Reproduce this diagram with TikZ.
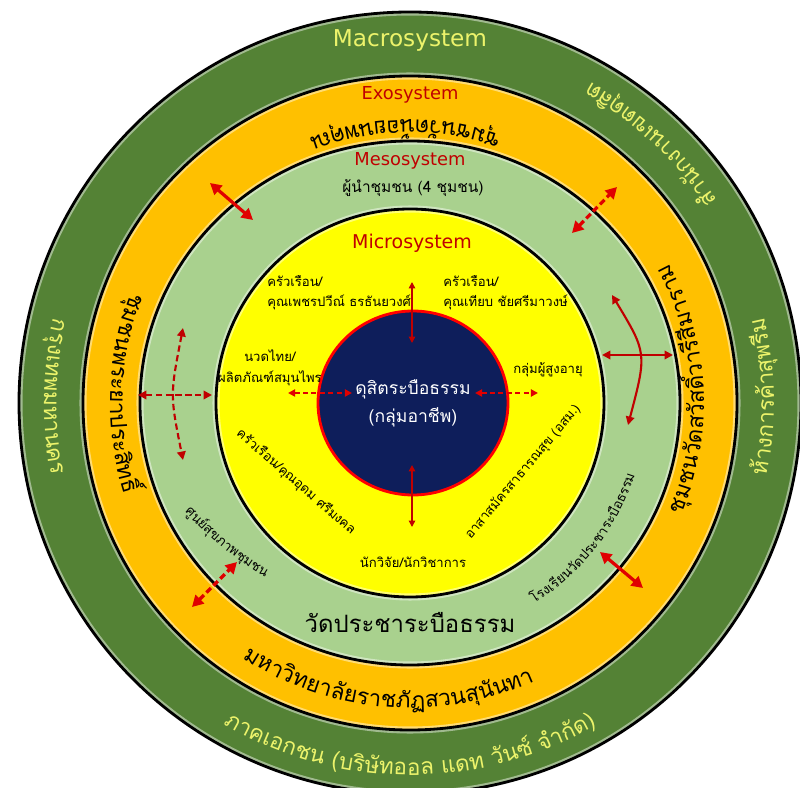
\documentclass[tikz,border=0pt]{standalone}
\usepackage{fontspec}
\setmainfont{DejaVu Sans}
\newfontfamily\thaifont[Script=Thai]{Loma}
\usepackage{tikz}
\usetikzlibrary{arrows.meta,decorations.text}
\definecolor{MacroGreen}{HTML}{548235}
\definecolor{ExoOrange}{HTML}{FFC000}
\definecolor{MesoGreen}{HTML}{A9D18E}
\definecolor{MicroYellow}{HTML}{FFFF00}
\definecolor{CoreNavy}{HTML}{0E1E5B}
\definecolor{LabelRed}{HTML}{C00000}
\definecolor{ArrowRed}{HTML}{E00000}
\definecolor{MacroInk}{HTML}{ECF36B}
\newcommand\greenfont{\thaifont\fontsize{16}{19}\selectfont\color{MacroInk}}
\newcommand\orangefont{\thaifont\fontsize{16}{19}\selectfont\color{black}}
\newcommand\mesosmall{\thaifont\fontsize{9.5}{12}\selectfont\color{black}}

\begin{document}
\begin{tikzpicture}[x=0.025cm,y=0.025cm,
  ringline/.style={draw=black,line width=2pt},
  halo/.style={draw=white,draw opacity=0.45,line width=5pt},
  syslabel/.style={text=LabelRed,anchor=base,inner sep=0pt,font=\fontsize{12.7}{15}\selectfont},
  microtext/.style={font=\thaifont\fontsize{9.3}{14.5}\selectfont,inner sep=0pt},
  mesotext/.style={font=\thaifont\fontsize{11}{14}\selectfont,inner sep=0pt},
  coretext/.style={font=\thaifont\fontsize{12.5}{20}\selectfont,text=white,align=center,inner sep=0pt},
  curvedtext/.style 2 args={decorate,decoration={text along path,text align=center,text={|#1|#2}}},
  thinarrow/.style={{Triangle[length=4.5pt,width=4.5pt]}-{Triangle[length=4.5pt,width=4.5pt]},draw=LabelRed,line width=1pt},
  dasharrow/.style={{Triangle[length=5pt,width=5pt]}-{Triangle[length=5pt,width=5pt]},draw=ArrowRed,line width=1.3pt,dash pattern=on 3.5pt off 2.5pt},
  bandarrow/.style={{Triangle[length=6pt,width=6pt]}-{Triangle[length=6pt,width=6pt]},draw=LabelRed,line width=1.5pt},
  fatarrow/.style={{Triangle[length=8pt,width=8.5pt]}-{Triangle[length=8pt,width=8.5pt]},draw=ArrowRed,line width=2.3pt},
  dashes/.style={dash pattern=on 4.5pt off 2.5pt}]
\useasboundingbox (-410,-384) rectangle (390,403);
\coordinate (centre) at (0,0);

% nested systems
\fill[MacroGreen] (centre) circle[radius=391];
\draw[halo] (centre) circle[radius=391];
\draw[ringline] (centre) circle[radius=391];
\fill[ExoOrange] (centre) circle[radius=327];
\draw[halo] (centre) circle[radius=327];
\draw[ringline] (centre) circle[radius=327];
\fill[MesoGreen] (centre) ellipse[x radius=270,y radius=262];
\draw[halo] (centre) ellipse[x radius=270,y radius=262];
\draw[ringline] (centre) ellipse[x radius=270,y radius=262];
\fill[MicroYellow] (centre) circle[radius=194];
\draw[halo] (centre) circle[radius=194];
\draw[ringline] (centre) circle[radius=194];
\fill[CoreNavy] (3,0) ellipse[x radius=95,y radius=92];
\draw[red,line width=2pt] (3,0) ellipse[x radius=95,y radius=92];

% titles
\node[anchor=base,inner sep=0pt,text=MacroInk,font=\fontsize{16.5}{19}\selectfont] (macro-title) at (0,356) {Macrosystem};
\node[syslabel] (exo-title) at (0,303) {Exosystem};
\node[syslabel] (meso-title) at (0,237) {Mesosystem};
\node[syslabel,font=\fontsize{13.5}{16}\selectfont] (micro-title) at (2,154) {Microsystem};

% macrosystem ring
\path[curvedtext={\greenfont}{ภาคเอกชน ({บ}{ริ}{ษั}ทออล แดท {วั}น{ซ์} {จำ}{กั}ด)}] (215:372) arc[start angle=215,end angle=325,radius=372];
\path[curvedtext={\greenfont}{ก{รุ}งเทพมหานคร}] (139:366) arc[start angle=139,end angle=219,radius=366];
\path[curvedtext={\greenfont}{{ห้}างการ{ค้}า{สุ}พ{รี}ม}] (-39:364) arc[start angle=-39,end angle=41,radius=364];
\path[curvedtext={\greenfont}{{สำ}{นั}กงานเขต{ดุ}{สิ}ต}] (7:368) arc[start angle=7,end angle=87,radius=368];

% exosystem ring
\path[curvedtext={\orangefont}{{ชุ}มชน{วั}ด{น้}อยนพ{คุ}ณ}] (56:283) arc[start angle=56,end angle=126,radius=283];
\path[curvedtext={\orangefont}{{ชุ}มชน{วั}ดส{วั}ส{ดิ์}วา{รี}{สี}มาราม}] (-40:294) arc[start angle=-40,end angle=46,radius=294];
\path[curvedtext={\orangefont}{{ชุ}มชนพระยาประ{สิ}ท{ธิ์}}] (138:300) arc[start angle=138,end angle=218,radius=300];
\path[curvedtext={\orangefont}{มหา{วิ}ทยา{ลั}ยราช{ภั}ฏสวน{สุ}{นั}นทา}] (215.5:305) arc[start angle=215.5,end angle=315.5,radius=305];

% mesosystem ring
\node[mesotext] (leaders) at (3,215) {ผู้นำชุมชน (4 ชุมชน)};
\node[mesotext,font=\thaifont\fontsize{17}{20}\selectfont] (temple) at (0,-220) {วัดประชาระบือธรรม};
\path[curvedtext={\mesosmall}{{ศู}น{ย์}{สุ}ขภาพ{ชุ}มชน}] (-242,-90) to[bend right=10] (-123,-187);
\path[curvedtext={\mesosmall}{โรงเ{รี}ยน{วั}ดประชาระ{บื}อธรรม}] (-66:236) arc[start angle=-66,end angle=-10,radius=236];

% microsystem ring
\node[microtext,align=left,anchor=west] (home-a) at (-143,110) {ครัวเรือน/\\คุณเพชรปวีณ์ ธรธันยวงศ์};
\node[microtext,align=left,anchor=west] (home-b) at (33,110) {ครัวเรือน/\\คุณเทียบ ชัยศรีมาวงษ์};
\node[microtext,align=center] (massage) at (-140,35) {นวดไทย/\\ผลิตภัณฑ์สมุนไพร};
\node[microtext] (elders) at (138,33) {กลุ่มผู้สูงอายุ};
\node[microtext,rotate=-41] (home-c) at (-114,-79) {ครัวเรือน/คุณอุดม ศรีมงคล};
\node[microtext,rotate=50] (volunteers) at (113,-69) {อาสาสมัครสาธารณสุข (อสม.)};
\node[microtext] (research) at (3,-159) {นักวิจัย/นักวิชาการ};
\node[coretext] (core) at (3,0) {ดุสิตระบือธรรม\\(กลุ่มอาชีพ)};

% links inside microsystem
\coordinate (up-a) at (2,121); \coordinate (up-b) at (2,60);
\coordinate (dn-a) at (2,-62); \coordinate (dn-b) at (2,-124);
\coordinate (lf-a) at (-122,10); \coordinate (lf-b) at (-58,10);
\coordinate (rt-a) at (65,10); \coordinate (rt-b) at (128,10);
\draw[thinarrow] (up-a) -- (up-b);
\draw[thinarrow] (dn-a) -- (dn-b);
\draw[dasharrow] (lf-a) -- (lf-b);
\draw[dasharrow] (rt-a) -- (rt-b);

% links across mesosystem
\coordinate (mw-a) at (-272,8); \coordinate (mw-b) at (-198,8);
\coordinate (mwarc-a) at (-227,75); \coordinate (mwarc-c) at (-240,8); \coordinate (mwarc-b) at (-227,-57);
\coordinate (me-a) at (192,48); \coordinate (me-b) at (263,48);
\coordinate (mearc-a) at (202,108); \coordinate (mearc-c) at (237,50); \coordinate (mearc-b) at (218,-22);
\draw[bandarrow,dashes] (mw-a) -- (mw-b);
\draw[bandarrow,dashes] (mwarc-a) .. controls (mwarc-c) .. (mwarc-b);
\draw[bandarrow] (me-a) -- (me-b);
\draw[bandarrow] (mearc-a) .. controls (mearc-c) .. (mearc-b);

% links between meso and exo
\coordinate (tl-a) at (-200,220); \coordinate (tl-b) at (-157,183);
\coordinate (tr-a) at (162,170); \coordinate (tr-b) at (207,216);
\coordinate (bl-a) at (-218,-204); \coordinate (bl-b) at (-173,-159);
\coordinate (br-a) at (190,-149); \coordinate (br-b) at (233,-185);
\draw[fatarrow] (tl-a) -- (tl-b);
\draw[fatarrow,dashes] (tr-a) -- (tr-b);
\draw[fatarrow,dashes] (bl-a) -- (bl-b);
\draw[fatarrow] (br-a) -- (br-b);
\end{tikzpicture}
\end{document}
